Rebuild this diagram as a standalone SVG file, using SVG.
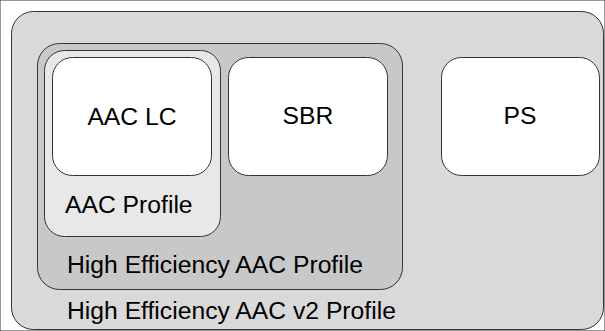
<svg xmlns="http://www.w3.org/2000/svg" width="605" height="331" viewBox="0 0 605 331">
<style>
rect{stroke:#333;stroke-width:1}
text{font-family:"Liberation Sans",Arial,sans-serif;font-size:24.7px;fill:#000}
.c{text-anchor:middle}
</style>
<rect x="0" y="0" width="605" height="331" fill="#fff" stroke="none"/>
<g id="hev2">
<rect x="11.5" y="11.5" width="592" height="318" rx="22" fill="#d9d9d9"/>
<text x="67" y="319">High Efficiency AAC v2 Profile</text>
</g>
<g id="he">
<rect x="37.5" y="43.5" width="365" height="246" rx="22" fill="#c8c8c8"/>
<text x="67" y="273">High Efficiency AAC Profile</text>
</g>
<g id="aacprofile">
<rect x="44.5" y="50.5" width="176" height="186" rx="20" fill="#e8e8e8"/>
<text x="65" y="213">AAC Profile</text>
</g>
<g id="aaclc">
<rect x="52.5" y="57.5" width="159" height="118" rx="20" fill="#fff"/>
<text class="c" x="132" y="125">AAC LC</text>
</g>
<g id="sbr">
<rect x="228.5" y="57.5" width="159" height="118" rx="20" fill="#fff"/>
<text class="c" x="308" y="124">SBR</text>
</g>
<g id="ps">
<rect x="441.5" y="57.5" width="158" height="118" rx="20" fill="#fff"/>
<text class="c" x="520" y="124">PS</text>
</g>
<g id="connectors"></g>
</svg>
